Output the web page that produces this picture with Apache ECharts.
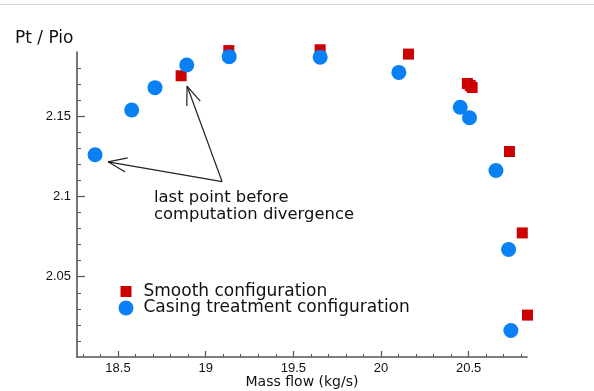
<!DOCTYPE html>
<html>
<head>
<meta charset="utf-8">
<script src="https://cdn.jsdelivr.net/npm/echarts@6/dist/echarts.min.js"></script>
<style>
  html, body { margin: 0; padding: 0; background: #fff; overflow: hidden; }
  #chart { width: 594px; height: 391px; }
</style>
</head>
<body>
<div id="chart"></div>
<script>
// Compressor characteristic: total pressure ratio vs. mass flow
const smoothFlow   = [18.86, 19.132, 19.653, 20.157, 20.493, 20.509, 20.52, 20.733, 20.806, 20.836];
const smoothRatio  = [2.1752, 2.1909, 2.1914, 2.1887, 2.1704, 2.1691, 2.1679, 2.128, 2.0773, 2.0261];
const casingFlow   = [18.369, 18.578, 18.711, 18.892, 19.134, 19.653, 20.102, 20.452, 20.505, 20.656, 20.728, 20.741];
const casingRatio  = [2.126, 2.1539, 2.1678, 2.1819, 2.1871, 2.1868, 2.1773, 2.1556, 2.149, 2.1162, 2.067, 2.0165];

const xMajor = [18.5, 19, 19.5, 20, 20.5];
const xMinor = [18.3, 18.4, 18.6, 18.7, 18.8, 18.9, 19.1, 19.2, 19.3, 19.4, 19.6, 19.7, 19.8, 19.9,
                20.1, 20.2, 20.3, 20.4, 20.6, 20.7, 20.8];
const yMajor = [2.05, 2.1, 2.15];
const yMinor = [2.01, 2.02, 2.03, 2.04, 2.06, 2.07, 2.08, 2.09, 2.11, 2.12, 2.13, 2.14,
                2.16, 2.17, 2.18];

const seriesNames = ['Smooth configuration', 'Casing treatment configuration'];
const noteLines = ['last point before', 'computation divergence'];
// arrow tail and heads, in data units
const noteTail = [19.094, 2.1092];
const noteHeads = [[18.443, 2.1216], [18.894, 2.1688]];

const FONT = '"DejaVu Sans", Verdana, sans-serif';
const NUM_FONT = '"Liberation Sans", Arial, Helvetica, sans-serif';
const INK = '#111';
const AXIS = '#555';
const RED = '#cc0000';
const BLUE = '#0a80f5';

const X_MIN = 18.266, X_MAX = 20.833, Y_MIN = 2.0, Y_MAX = 2.19;

const chart = echarts.init(document.getElementById('chart'), null, { renderer: 'canvas', width: 594, height: 391 });

function zip(a, b) { return a.map((v, i) => [v, b[i]]); }

const option = {
  backgroundColor: '#fff',
  animation: false,
  grid: { left: 77, right: 67, top: 52, bottom: 34, containLabel: false, outerBoundsMode: 'none' },
  xAxis: [
    {
      type: 'value', min: X_MIN, max: X_MAX, position: 'bottom',
      axisLine: { show: true, lineStyle: { color: AXIS, width: 1.6 } },
      axisTick: { show: true, inside: true, length: 6, customValues: xMajor, lineStyle: { color: AXIS, width: 1.2 } },
      axisLabel: { show: true, customValues: xMajor, margin: 5, color: INK, fontFamily: NUM_FONT, fontSize: 13 },
      splitLine: { show: false },
      name: 'Mass flow (kg/s)', nameLocation: 'middle', nameGap: 18, nameMoveOverlap: false,
      nameTextStyle: { color: INK, fontFamily: FONT, fontSize: 14 }
    },
    {
      type: 'value', min: X_MIN, max: X_MAX, position: 'bottom', gridIndex: 0,
      axisLine: { show: false },
      axisTick: { show: true, inside: true, length: 3, customValues: xMinor, lineStyle: { color: AXIS, width: 1 } },
      axisLabel: { show: false },
      splitLine: { show: false }
    }
  ],
  yAxis: [
    {
      type: 'value', min: Y_MIN, max: Y_MAX, position: 'left',
      axisLine: { show: true, lineStyle: { color: AXIS, width: 1.6 } },
      axisTick: { show: true, inside: true, length: 8, customValues: yMajor, lineStyle: { color: AXIS, width: 1.2 } },
      axisLabel: { show: true, customValues: yMajor, margin: 6, color: INK, fontFamily: NUM_FONT, fontSize: 13 },
      splitLine: { show: false }
    },
    {
      type: 'value', min: Y_MIN, max: Y_MAX, position: 'left', gridIndex: 0,
      axisLine: { show: false },
      axisTick: { show: true, inside: true, length: 4, customValues: yMinor, lineStyle: { color: AXIS, width: 1 } },
      axisLabel: { show: false },
      splitLine: { show: false }
    }
  ],
  legend: [
    {
      data: [{ name: seriesNames[0], icon: 'rect' }],
      left: 120.5, top: 283, padding: 0, itemWidth: 11, itemHeight: 11,
      textStyle: { color: INK, fontFamily: FONT, fontSize: 17, lineHeight: 17, padding: [0, 0, 0, 7] }
    },
    {
      data: [{ name: seriesNames[1], icon: 'circle' }],
      left: 118.5, top: 299.5, padding: 0, itemWidth: 15, itemHeight: 15,
      textStyle: { color: INK, fontFamily: FONT, fontSize: 17, lineHeight: 17, padding: [0, 0, 0, 5] }
    }
  ],
  series: [
    {
      name: seriesNames[0], type: 'scatter', xAxisIndex: 0, yAxisIndex: 0, clip: false,
      symbol: 'rect', symbolSize: 11, itemStyle: { color: RED, opacity: 1 },
      data: zip(smoothFlow, smoothRatio)
    },
    {
      name: seriesNames[1], type: 'scatter', xAxisIndex: 0, yAxisIndex: 0, clip: false,
      symbol: 'circle', symbolSize: 15, itemStyle: { color: BLUE, opacity: 1 },
      data: zip(casingFlow, casingRatio)
    }
  ]
};

chart.setOption(option);

// Annotation: open arrows from the note to the last converged points
function arrowGraphics() {
  const tail = chart.convertToPixel({ gridIndex: 0 }, noteTail);
  const els = [];
  const headLen = 20, half = 21 * Math.PI / 180;
  noteHeads.forEach(h => {
    const p = chart.convertToPixel({ gridIndex: 0 }, h);
    els.push({ type: 'line', shape: { x1: tail[0], y1: tail[1], x2: p[0], y2: p[1] },
               style: { stroke: '#222', lineWidth: 1.2 }, silent: true });
    const ang = Math.atan2(tail[1] - p[1], tail[0] - p[0]);
    [ang - half, ang + half].forEach(a => {
      els.push({ type: 'line',
                 shape: { x1: p[0], y1: p[1], x2: p[0] + headLen * Math.cos(a), y2: p[1] + headLen * Math.sin(a) },
                 style: { stroke: '#222', lineWidth: 1.2 }, silent: true });
    });
  });
  return els;
}

chart.setOption({
  graphic: [
    { type: 'line', shape: { x1: 0, y1: 4.5, x2: 594, y2: 4.5 }, style: { stroke: '#d8d8d8', lineWidth: 1 }, silent: true },
    { type: 'text', left: 15, top: 30,
      style: { text: 'Pt / Pio', fill: INK, font: '17px ' + FONT } },
    { type: 'text', left: 154, top: 189.5,
      style: { text: noteLines.join('\n'), fill: INK, font: '16.4px ' + FONT, lineHeight: 17 } }
  ].concat(arrowGraphics())
});
</script>
</body>
</html>
